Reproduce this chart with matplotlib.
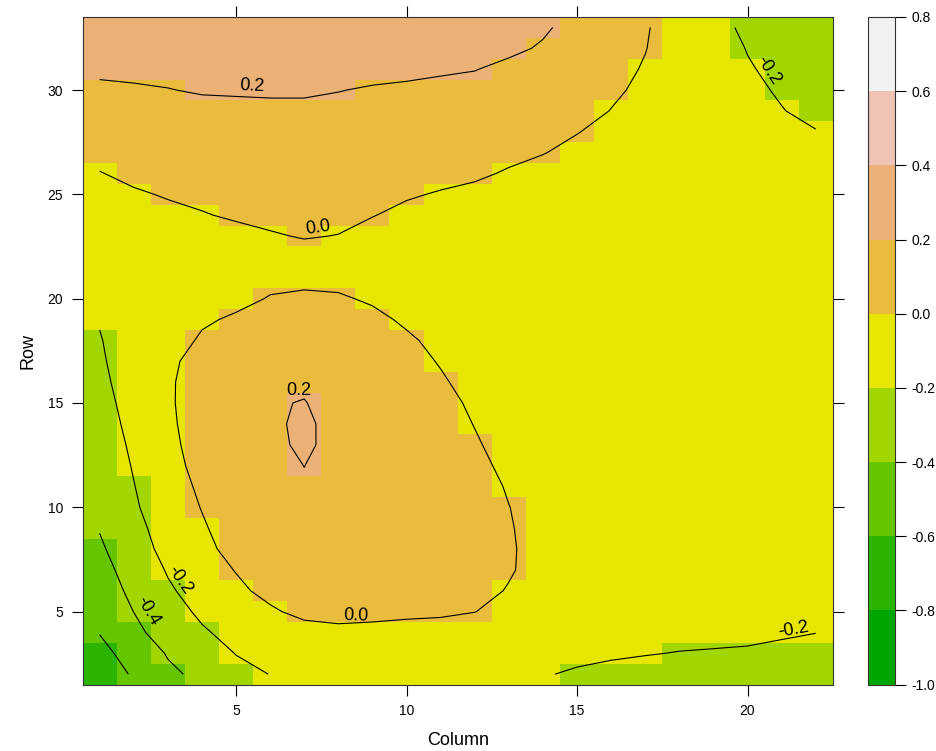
import numpy as np
import matplotlib
matplotlib.use("Agg")
import matplotlib.pyplot as plt
from matplotlib.colors import ListedColormap, BoundaryNorm

plt.rcParams['font.family'] = ['Liberation Sans', 'DejaVu Sans']

columns = list(range(1, 23))
rows = list(range(2, 34))
levels = [-1.0, -0.8, -0.6, -0.4, -0.2, 0.0, 0.2, 0.4, 0.6, 0.8]
level_colors = ['#00A600', '#2CB500', '#65C600', '#A2D600', '#E6E600',
                '#E9BC3D', '#ECB176', '#EFC3B6', '#F2F2F2']

# surface values, one list per row from row 33 (top) down to row 2, columns 1..22
z_rows = [
    [0.31, 0.31, 0.305, 0.31, 0.31, 0.31, 0.31, 0.305, 0.30, 0.29, 0.28, 0.265, 0.245, 0.22, 0.15, 0.085, 0.012, -0.07, -0.15, -0.23, -0.30, -0.34],
    [0.28, 0.285, 0.285, 0.29, 0.29, 0.29, 0.29, 0.285, 0.275, 0.265, 0.255, 0.24, 0.23, 0.185, 0.12, 0.06, 0.004, -0.07, -0.14, -0.205, -0.27, -0.31],
    [0.235, 0.24, 0.245, 0.255, 0.26, 0.265, 0.265, 0.26, 0.25, 0.235, 0.22, 0.205, 0.165, 0.125, 0.08, 0.04, -0.01, -0.07, -0.13, -0.19, -0.23, -0.28],
    [0.165, 0.18, 0.195, 0.215, 0.22, 0.225, 0.225, 0.205, 0.185, 0.175, 0.16, 0.15, 0.125, 0.1, 0.065, 0.02, -0.025, -0.075, -0.12, -0.17, -0.215, -0.255],
    [0.12, 0.135, 0.15, 0.15, 0.155, 0.16, 0.16, 0.155, 0.15, 0.14, 0.13, 0.12, 0.105, 0.08, 0.045, -0.003, -0.05, -0.09, -0.13, -0.165, -0.195, -0.235],
    [0.08, 0.1, 0.115, 0.125, 0.125, 0.125, 0.125, 0.12, 0.115, 0.105, 0.095, 0.085, 0.07, 0.045, 0.005, -0.04, -0.08, -0.115, -0.145, -0.17, -0.185, -0.195],
    [0.04, 0.065, 0.08, 0.095, 0.095, 0.095, 0.095, 0.09, 0.085, 0.075, 0.065, 0.05, 0.03, 0.005, -0.035, -0.075, -0.105, -0.13, -0.15, -0.165, -0.175, -0.18],
    [-0.005, 0.03, 0.045, 0.06, 0.065, 0.065, 0.065, 0.06, 0.055, 0.045, 0.035, 0.02, -0.012, -0.045, -0.08, -0.11, -0.13, -0.145, -0.155, -0.16, -0.165, -0.165],
    [-0.035, -0.015, 0.01, 0.03, 0.04, 0.04, 0.04, 0.035, 0.03, 0.012, -0.009, -0.03, -0.06, -0.09, -0.115, -0.135, -0.15, -0.16, -0.165, -0.165, -0.165, -0.165],
    [-0.06, -0.045, -0.03, -0.008, 0.016, 0.02, 0.02, 0.02, 0.004, -0.028, -0.055, -0.08, -0.1, -0.12, -0.14, -0.15, -0.16, -0.165, -0.17, -0.17, -0.17, -0.17],
    [-0.085, -0.065, -0.055, -0.045, -0.037, -0.007, 0.005, -0.002, -0.04, -0.06, -0.08, -0.1, -0.115, -0.13, -0.145, -0.155, -0.16, -0.165, -0.17, -0.17, -0.17, -0.17],
    [-0.11, -0.08, -0.07, -0.055, -0.045, -0.035, -0.03, -0.035, -0.05, -0.07, -0.085, -0.1, -0.115, -0.125, -0.135, -0.145, -0.15, -0.155, -0.16, -0.16, -0.16, -0.16],
    [-0.135, -0.09, -0.075, -0.05, -0.035, -0.022, -0.018, -0.022, -0.035, -0.055, -0.07, -0.085, -0.1, -0.11, -0.12, -0.13, -0.135, -0.14, -0.145, -0.15, -0.15, -0.155],
    [-0.16, -0.095, -0.065, -0.035, -0.023, 0.005, 0.013, 0.009, -0.01, -0.035, -0.055, -0.07, -0.085, -0.095, -0.105, -0.115, -0.12, -0.125, -0.13, -0.135, -0.14, -0.14],
    [-0.19, -0.095, -0.055, -0.012, 0.012, 0.035, 0.05, 0.038, 0.019, -0.012, -0.04, -0.06, -0.075, -0.085, -0.095, -0.1, -0.105, -0.11, -0.115, -0.12, -0.125, -0.125],
    [-0.21, -0.1, -0.044, 0.012, 0.055, 0.08, 0.095, 0.075, 0.05, 0.012, -0.021, -0.045, -0.065, -0.075, -0.085, -0.09, -0.095, -0.1, -0.105, -0.11, -0.115, -0.12],
    [-0.225, -0.1, -0.026, 0.047, 0.1, 0.125, 0.14, 0.105, 0.075, 0.035, -0.007, -0.04, -0.065, -0.08, -0.09, -0.096, -0.1, -0.104, -0.108, -0.112, -0.116, -0.12],
    [-0.24, -0.119, -0.022, 0.075, 0.135, 0.16, 0.175, 0.125, 0.095, 0.065, 0.012, -0.035, -0.065, -0.085, -0.095, -0.097, -0.1, -0.103, -0.106, -0.11, -0.114, -0.118],
    [-0.255, -0.14, -0.025, 0.09, 0.152, 0.188, 0.206, 0.14, 0.11, 0.085, 0.036, -0.02, -0.06, -0.09, -0.092, -0.094, -0.096, -0.1, -0.104, -0.108, -0.112, -0.116],
    [-0.27, -0.157, -0.034, 0.088, 0.155, 0.176, 0.226, 0.15, 0.125, 0.1, 0.053, -0.004, -0.055, -0.085, -0.088, -0.09, -0.094, -0.098, -0.102, -0.106, -0.11, -0.115],
    [-0.29, -0.173, -0.048, 0.078, 0.152, 0.17, 0.222, 0.158, 0.135, 0.11, 0.07, 0.013, -0.045, -0.08, -0.083, -0.088, -0.092, -0.097, -0.1, -0.105, -0.11, -0.115],
    [-0.31, -0.189, -0.065, 0.06, 0.145, 0.165, 0.201, 0.158, 0.14, 0.12, 0.085, 0.033, -0.03, -0.07, -0.078, -0.085, -0.09, -0.095, -0.1, -0.105, -0.11, -0.115],
    [-0.33, -0.205, -0.087, 0.032, 0.135, 0.157, 0.19, 0.155, 0.142, 0.125, 0.095, 0.052, -0.011, -0.06, -0.072, -0.082, -0.09, -0.095, -0.1, -0.105, -0.11, -0.115],
    [-0.355, -0.22, -0.107, 0.007, 0.12, 0.145, 0.18, 0.15, 0.14, 0.125, 0.1, 0.065, 0.002, -0.05, -0.07, -0.08, -0.088, -0.095, -0.1, -0.105, -0.11, -0.12],
    [-0.39, -0.245, -0.133, -0.021, 0.09, 0.13, 0.165, 0.14, 0.135, 0.12, 0.1, 0.068, 0.009, -0.047, -0.068, -0.08, -0.088, -0.095, -0.1, -0.105, -0.115, -0.125],
    [-0.43, -0.265, -0.157, -0.049, 0.06, 0.11, 0.145, 0.125, 0.12, 0.11, 0.095, 0.065, 0.013, -0.043, -0.068, -0.08, -0.09, -0.1, -0.105, -0.11, -0.12, -0.13],
    [-0.47, -0.314, -0.187, -0.09, 0.008, 0.085, 0.12, 0.105, 0.1, 0.09, 0.08, 0.055, 0.01, -0.04, -0.07, -0.085, -0.095, -0.105, -0.11, -0.12, -0.13, -0.14],
    [-0.51, -0.353, -0.222, -0.131, -0.039, 0.052, 0.09, 0.075, 0.07, 0.065, 0.055, 0.035, -0.007, -0.05, -0.08, -0.095, -0.105, -0.115, -0.12, -0.13, -0.14, -0.15],
    [-0.55, -0.398, -0.253, -0.177, -0.102, -0.026, 0.049, 0.035, 0.03, 0.025, 0.02, 0.002, -0.038, -0.075, -0.1, -0.115, -0.125, -0.135, -0.14, -0.15, -0.16, -0.17],
    [-0.595, -0.45, -0.307, -0.215, -0.16, -0.09, -0.07, -0.025, -0.03, -0.043, -0.051, -0.057, -0.08, -0.11, -0.13, -0.14, -0.15, -0.155, -0.165, -0.172, -0.187, -0.1985],
    [-0.64, -0.545, -0.384, -0.29, -0.195, -0.145, -0.12, -0.09, -0.085, -0.09, -0.095, -0.1, -0.12, -0.145, -0.165, -0.18, -0.193, -0.205, -0.21, -0.215, -0.225, -0.235],
    [-0.69, -0.583, -0.441, -0.35, -0.25, -0.197, -0.17, -0.15, -0.14, -0.14, -0.14, -0.145, -0.16, -0.19, -0.218, -0.24, -0.255, -0.27, -0.28, -0.29, -0.30, -0.31],
]

# where each contour label sits along its line (column, row)
label_spots = [
    (0.2, (5.45, 29.8)),
    (0.0, (7.45, 23.0)),
    (-0.2, (20.4, 30.7)),
    (0.2, (6.85, 15.2)),
    (0.0, (8.5, 4.4)),
    (-0.2, (3.15, 6.3)),
    (-0.4, (2.2, 4.8)),
    (-0.2, (21.4, 3.75)),
]

z = np.array(z_rows[::-1])

fig = plt.figure(figsize=(9.37, 7.51), dpi=100)
W, H = 937, 751
ax = fig.add_axes([82.6 / W, 1 - 684.6 / H, (832.8 - 82.6) / W, (684.6 - 17.0) / H])

cmap = ListedColormap(level_colors)
norm = BoundaryNorm(levels, cmap.N)
x_edges = np.arange(0.5, 23.0, 1.0)
y_edges = np.arange(1.5, 34.0, 1.0)
mesh = ax.pcolormesh(x_edges, y_edges, z, cmap=cmap, norm=norm,
                     edgecolors='face', linewidth=0)
ax.set_xlim(0.5, 22.5)
ax.set_ylim(1.5, 33.5)

cs = ax.contour(columns, rows, z, levels=levels, colors='black',
                linewidths=0.8, linestyles='solid')


def label_line(level, near):
    segs = cs.allsegs[levels.index(level)]
    best = None
    for seg in segs:
        d = np.hypot(seg[:, 0] - near[0], seg[:, 1] - near[1])
        k = int(d.argmin())
        if best is None or d[k] < best[0]:
            best = (d[k], seg, k)
    _, seg, k = best
    disp = ax.transData.transform(seg)
    a = disp[max(k - 1, 0)]
    b = disp[min(k + 1, len(seg) - 1)]
    ang = np.degrees(np.arctan2(b[1] - a[1], b[0] - a[0]))
    if ang > 90:
        ang -= 180
    elif ang < -90:
        ang += 180
    ax.text(near[0], near[1], f'{level:.1f}', rotation=ang, rotation_mode='anchor',
            ha='center', va='bottom', fontsize=13, color='black')


for lev, spot in label_spots:
    label_line(lev, spot)

ax.set_xticks([5, 10, 15, 20])
ax.set_yticks([5, 10, 15, 20, 25, 30])
ax.tick_params(direction='out', length=8, width=0.8, top=True, right=True,
               labeltop=False, labelright=False, labelsize=10, pad=6)
for s in ax.spines.values():
    s.set_linewidth(0.8)
    s.set_color('#333333')
ax.set_xlabel('Column', fontsize=13, labelpad=10)
ax.set_ylabel('Row', fontsize=13, labelpad=8)

cax = fig.add_axes([868 / W, 1 - 684.6 / H, 27 / W, (684.6 - 17.0) / H])
cb = fig.colorbar(mesh, cax=cax, ticks=levels)
cb.set_ticklabels([f'{v:.1f}' for v in levels])
cb.ax.tick_params(direction='out', length=8, width=0.8, labelsize=10, pad=4)
cb.outline.set_linewidth(0.8)
cb.outline.set_edgecolor('#333333')

fig.savefig('out.png', dpi=100)
